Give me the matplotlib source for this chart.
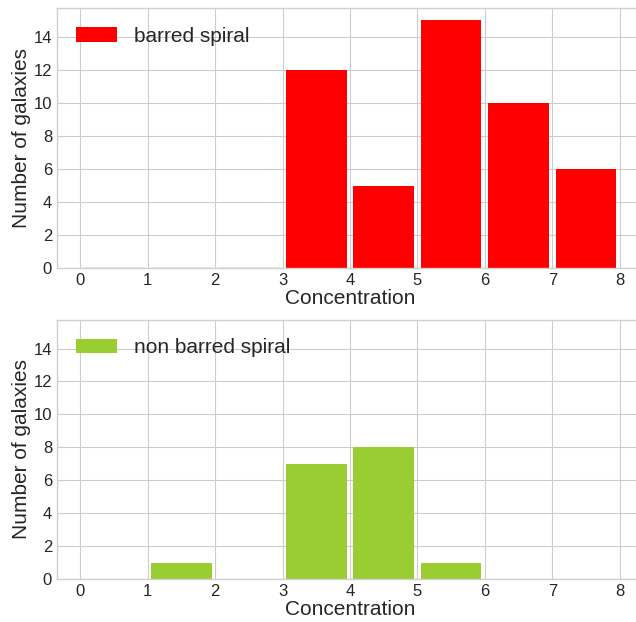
import numpy as np
import matplotlib
matplotlib.use("Agg")
import matplotlib.pyplot as plt

# histogram counts per concentration bin (bin edges 0..8)
bin_edges = [0, 1, 2, 3, 4, 5, 6, 7, 8]
barred_counts = [0, 0, 0, 12, 5, 15, 10, 6]
non_barred_counts = [0, 1, 0, 7, 8, 1, 0, 0]

plt.style.use("seaborn-v0_8-whitegrid")
plt.rcParams["font.family"] = ["Liberation Sans", "DejaVu Sans"]
plt.rcParams["text.color"] = ".15"
plt.rcParams["axes.labelcolor"] = ".15"
plt.rcParams["xtick.color"] = ".15"
plt.rcParams["ytick.color"] = ".15"

fig = plt.figure(figsize=(6.36, 6.22), dpi=100)
ax_top = fig.add_axes([0.0896, 0.569, 0.9214, 0.418])
ax_bot = fig.add_axes([0.0896, 0.069, 0.9214, 0.417])

centers = np.array(bin_edges[:-1]) + 0.5
rwidth = 0.9


def draw(ax, counts, color, label, zero_line):
    counts = np.array(counts)
    ax.bar(centers, counts, width=rwidth, color=color, label=label, linewidth=0)
    if zero_line:
        # empty bins leave a faint line on the baseline
        empty = counts == 0
        ax.hlines(counts[empty], centers[empty] - rwidth / 2,
                  centers[empty] + rwidth / 2, color=color, alpha=0.5, lw=1,
                  zorder=3)
    ax.set_xlim(-0.345, 8.345)
    ax.set_ylim(0, 15.75)
    ax.set_xticks(range(0, 9))
    ax.set_yticks(range(0, 15, 2))
    ax.tick_params(labelsize=12)
    ax.set_xlabel("Concentration", fontsize=15, labelpad=1)
    ax.set_ylabel("Number of galaxies", fontsize=15, labelpad=2)
    ax.legend(loc="upper left", fontsize=15, frameon=False)
    for s in ax.spines.values():
        s.set_color("#d0d0d0")


draw(ax_top, barred_counts, "red", "barred spiral", True)
draw(ax_bot, non_barred_counts, "yellowgreen", "non barred spiral", False)

fig.savefig("out.png", dpi=100)
